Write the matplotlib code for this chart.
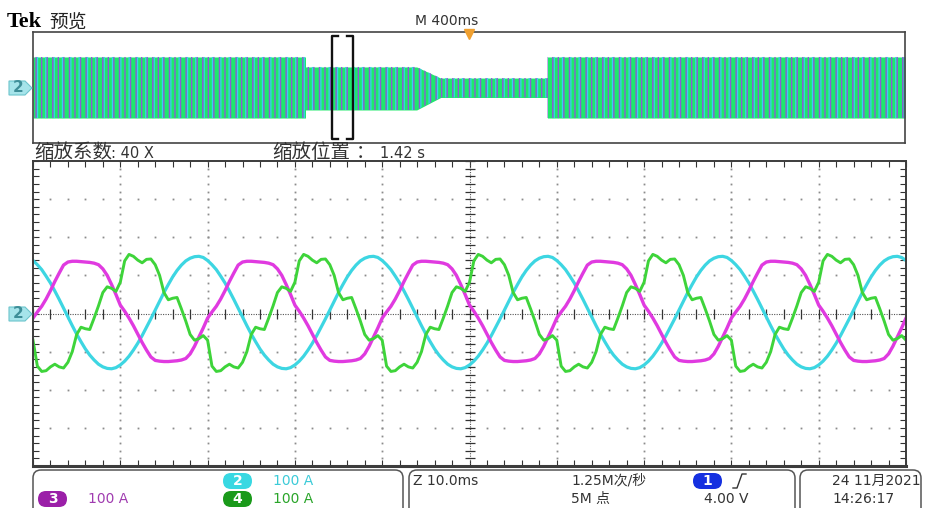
import numpy as np
import matplotlib.pyplot as plt
from matplotlib.patches import Polygon, FancyBboxPatch

plt.rcParams['font.family'] = ['DejaVu Sans', 'Noto Sans CJK SC']
plt.rcParams['hatch.linewidth'] = 1.0

# one 20 ms cycle of each channel, every 0.5 ms (A)
step_ms = 0.5
ch2_cycle = [139, 128, 115, 98, 80, 59, 37, 14, -9, -32,
             -54, -74, -93, -109, -122, -133, -140, -144, -145, -142,
             -135, -125, -112, -96, -78, -58, -36, -14, 9, 32,
             55, 76, 96, 113, 127, 138, 145, 149, 150, 147]
ch3_cycle = [-12, 4, 19, 38, 60, 84, 106, 127, 135, 137,
             137, 136, 135, 134, 132, 128, 117, 100, 76, 50,
             22, 6, -12, -32, -54, -76, -96, -114, -123, -125,
             -126, -126, -125, -124, -122, -118, -106, -86, -62, -38]
ch4_cycle = [-70, -138, -152, -150, -140, -133, -140, -143, -128, -100,
             -55, -36, -40, -42, -12, 20, 55, 70, 66, 58,
             82, 138, 155, 150, 140, 133, 142, 143, 128, 100,
             55, 36, 40, 42, 12, -20, -55, -70, -66, -58]
n_cycles = 5

# overview record: envelope of the currents over the 4 s acquisition (s, A)
prev_t = [0.0, 1.25, 1.25, 1.76, 1.87, 2.36, 2.36, 4.0]
prev_top = [220, 220, 148, 148, 68, 68, 220, 220]
prev_bot = [-220, -220, -162, -162, -72, -72, -220, -220]

zoom_pos = 1.42   # s
h_scale = 400     # ms/div overview
z_scale = 10.0    # ms/div zoom
v_scale = 100     # A/div

CYAN = '#3dd6e2'
MAGENTA = '#e03ae0'
GREEN = '#3ed43a'

W, H = 933, 508
fig = plt.figure(figsize=(W / 100, H / 100), dpi=100)


def rect(x0, y0, x1, y1):
    return [x0 / W, 1 - y1 / H, (x1 - x0) / W, (y1 - y0) / H]


def full(c):
    return np.concatenate([np.tile(c, n_cycles), c[:1]])


# ---- zoomed window ----
ax = fig.add_axes(rect(33, 161, 906, 466))
ax.set_xlim(0, 10 * z_scale)
ax.set_ylim(-4 * v_scale, 4 * v_scale)

sub_x = np.arange(0, 10 * z_scale + 0.01, z_scale / 5)
sub_y = np.arange(-4 * v_scale, 4 * v_scale + 0.01, v_scale / 5)
for k in range(1, 10):
    if k == 5:
        continue
    ax.plot(np.full(sub_y.size, k * z_scale), sub_y, ls='none', marker='s',
            ms=1.3, mew=0, color='#8c8c8c')
for k in range(-3, 4):
    if k == 0:
        continue
    ax.plot(sub_x, np.full(sub_x.size, k * v_scale), ls='none', marker='s',
            ms=1.3, mew=0, color='#8c8c8c')

ax.axvline(5 * z_scale, color='#555555', lw=0.8, ls=(0, (1, 1.2)))
ax.axhline(0, color='#555555', lw=0.8, ls=(0, (1, 1.2)))
ax.plot(np.full(sub_y.size, 5 * z_scale), sub_y, ls='none', marker='_',
        ms=7, mew=0.9, color='#333333')
ax.plot(sub_x, np.zeros(sub_x.size), ls='none', marker='|',
        ms=7, mew=0.9, color='#333333')

ax.set_xticks(sub_x)
ax.set_yticks(sub_y)
ax.tick_params(direction='in', length=4, width=0.8, color='#333333',
               top=True, right=True, labelbottom=False, labelleft=False)
for s in ax.spines.values():
    s.set_color('#3c3c3c')
    s.set_linewidth(1.4)
ax.spines['bottom'].set_linewidth(2.2)

t = np.arange(len(ch2_cycle) * n_cycles + 1) * step_ms
ax.plot(t, full(ch2_cycle), color=CYAN, lw=2.3)
ax.plot(t, full(ch3_cycle), color=MAGENTA, lw=2.4)
ax.plot(t, full(ch4_cycle), color=GREEN, lw=2.1)

# ---- overview record ----
pv = fig.add_axes(rect(33, 32, 905, 143))
pv.set_xlim(0, 10 * h_scale / 1000)
pv.set_ylim(-4 * v_scale, 4 * v_scale)
pv.set_xticks([])
pv.set_yticks([])
for s in pv.spines.values():
    s.set_color('#444444')
    s.set_linewidth(1.2)
pv.fill_between(prev_t, prev_bot, prev_top, color='#1fe86c', lw=0)
pv.fill_between(prev_t, prev_bot, prev_top, facecolor='none',
                edgecolor='#38d4ec', hatch='||', lw=0)
pv.fill_between(prev_t, prev_bot, prev_top, facecolor='none',
                edgecolor='#8c5ad6', hatch='|||', lw=0)

zw = 10 * z_scale / 1000
xl, xr = zoom_pos - zw / 2, zoom_pos + zw / 2
tr = pv.get_xaxis_transform()
ser = 0.028
pv.plot([xl + ser, xl, xl, xl + ser], [0.96, 0.96, 0.04, 0.04], transform=tr,
        color='#111111', lw=1.7)
pv.plot([xr - ser, xr, xr, xr - ser], [0.96, 0.96, 0.04, 0.04], transform=tr,
        color='#111111', lw=1.7)
pv.plot(5 * h_scale / 1000, 0.985, transform=tr, marker='v', ms=7,
        color='#f0a030', clip_on=False, zorder=5)

# ---- screen decorations and readouts ----
ov = fig.add_axes([0, 0, 1, 1], zorder=10)
ov.set_xlim(0, W)
ov.set_ylim(H, 0)
ov.axis('off')


def ch_marker(y):
    ov.add_patch(Polygon([(9, y - 7), (25, y - 7), (32, y), (25, y + 7), (9, y + 7)],
                         closed=True, fc='#a6e4ea', ec='#6cc4cc', lw=0.8))
    ov.text(18, y, '2', color='#3e8e98', fontsize=11, fontweight='bold',
            ha='center', va='center')


def pill(x, y, label, fc):
    ov.add_patch(FancyBboxPatch((x, y - 8), 29, 16,
                                boxstyle='round,pad=0,rounding_size=8',
                                fc=fc, ec='none'))
    ov.text(x + 14.5, y, label, color='white', fontsize=10, fontweight='bold',
            ha='center', va='center')


ch_marker(88)
ch_marker(314)

ov.text(7, 22, 'Tek', family='Liberation Serif', fontweight='bold',
        fontsize=16, va='center')
ov.text(49, 22, '预览', family='Noto Sans CJK SC', fontsize=13.5, va='center',
        color='#222222')
ov.text(415, 21, 'M 400ms', fontsize=10, va='center', color='#333333')

ov.text(34, 153, '缩放系数', family='Noto Sans CJK SC', fontsize=14,
        va='center', color='#333333')
ov.text(111, 153, ': 40 X', fontsize=10.5, va='center', color='#333333')
ov.text(272, 153, '缩放位置', family='Noto Sans CJK SC', fontsize=14,
        va='center', color='#333333')
ov.text(356, 153, '：', family='Noto Sans CJK SC', fontsize=13.5,
        va='center', color='#333333')
ov.text(380, 153, '1.42 s', fontsize=10.5, va='center', color='#333333')

for x0, x1 in [(33, 403), (409, 795), (800, 921)]:
    ov.add_patch(FancyBboxPatch((x0, 470), x1 - x0, 60,
                                boxstyle='round,pad=0,rounding_size=8',
                                fc='none', ec='#555555', lw=1.1))

r1, r2 = 481, 499
pill(223, r1, '2', '#38d8e2')
ov.text(273, r1, '100 A', color='#3ccbd8', fontsize=10, va='center')
pill(38, r2, '3', '#9b1fa8')
ov.text(88, r2, '100 A', color='#a03cb0', fontsize=10, va='center')
pill(223, r2, '4', '#1a9a1a')
ov.text(273, r2, '100 A', color='#2aa52a', fontsize=10, va='center')

ov.text(413, r1, 'Z 10.0ms', fontsize=10, va='center', color='#333333')
ov.text(571, r1, '1.25M次/秒', fontsize=10, va='center', color='#333333')
ov.text(571, r2, '5M 点', fontsize=10, va='center', color='#333333')
pill(693, r1, '1', '#1530e0')
ov.plot([733, 737, 742, 746], [488, 488, 474, 474], color='#333333', lw=1)
ov.text(704, r2, '4.00 V', fontsize=10, va='center', color='#333333')
ov.text(832, r1, '24 11月2021', fontsize=10, va='center', color='#333333')
ov.text(832, r2, '14:26:17', fontsize=10, va='center', color='#333333')

fig.savefig('out.png', dpi=100)
